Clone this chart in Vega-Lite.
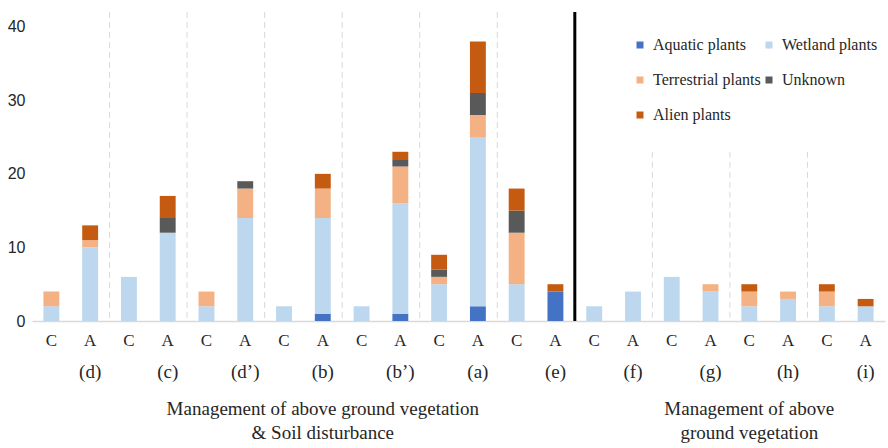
{
  "$schema": "https://vega.github.io/schema/vega-lite/v6.json",
  "width": 853,
  "height": 309,
  "autosize": "none",
  "padding": {"left": 32, "top": 12, "right": 3, "bottom": 127},
  "config": {"view": {"stroke": null}, "font": "Liberation Serif"},
  "datasets": {
    "counts": [
      {"bar": "(d)|C", "type": "Wetland plants", "n": 2},
      {"bar": "(d)|C", "type": "Terrestrial plants", "n": 2},
      {"bar": "(d)|A", "type": "Wetland plants", "n": 10},
      {"bar": "(d)|A", "type": "Terrestrial plants", "n": 1},
      {"bar": "(d)|A", "type": "Alien plants", "n": 2},
      {"bar": "(c)|C", "type": "Wetland plants", "n": 6},
      {"bar": "(c)|A", "type": "Wetland plants", "n": 12},
      {"bar": "(c)|A", "type": "Unknown", "n": 2},
      {"bar": "(c)|A", "type": "Alien plants", "n": 3},
      {"bar": "(d’)|C", "type": "Wetland plants", "n": 2},
      {"bar": "(d’)|C", "type": "Terrestrial plants", "n": 2},
      {"bar": "(d’)|A", "type": "Wetland plants", "n": 14},
      {"bar": "(d’)|A", "type": "Terrestrial plants", "n": 4},
      {"bar": "(d’)|A", "type": "Unknown", "n": 1},
      {"bar": "(b)|C", "type": "Wetland plants", "n": 2},
      {"bar": "(b)|A", "type": "Aquatic plants", "n": 1},
      {"bar": "(b)|A", "type": "Wetland plants", "n": 13},
      {"bar": "(b)|A", "type": "Terrestrial plants", "n": 4},
      {"bar": "(b)|A", "type": "Alien plants", "n": 2},
      {"bar": "(b’)|C", "type": "Wetland plants", "n": 2},
      {"bar": "(b’)|A", "type": "Aquatic plants", "n": 1},
      {"bar": "(b’)|A", "type": "Wetland plants", "n": 15},
      {"bar": "(b’)|A", "type": "Terrestrial plants", "n": 5},
      {"bar": "(b’)|A", "type": "Unknown", "n": 1},
      {"bar": "(b’)|A", "type": "Alien plants", "n": 1},
      {"bar": "(a)|C", "type": "Wetland plants", "n": 5},
      {"bar": "(a)|C", "type": "Terrestrial plants", "n": 1},
      {"bar": "(a)|C", "type": "Unknown", "n": 1},
      {"bar": "(a)|C", "type": "Alien plants", "n": 2},
      {"bar": "(a)|A", "type": "Aquatic plants", "n": 2},
      {"bar": "(a)|A", "type": "Wetland plants", "n": 23},
      {"bar": "(a)|A", "type": "Terrestrial plants", "n": 3},
      {"bar": "(a)|A", "type": "Unknown", "n": 3},
      {"bar": "(a)|A", "type": "Alien plants", "n": 7},
      {"bar": "(e)|C", "type": "Wetland plants", "n": 5},
      {"bar": "(e)|C", "type": "Terrestrial plants", "n": 7},
      {"bar": "(e)|C", "type": "Unknown", "n": 3},
      {"bar": "(e)|C", "type": "Alien plants", "n": 3},
      {"bar": "(e)|A", "type": "Aquatic plants", "n": 4},
      {"bar": "(e)|A", "type": "Alien plants", "n": 1},
      {"bar": "(f)|C", "type": "Wetland plants", "n": 2},
      {"bar": "(f)|A", "type": "Wetland plants", "n": 4},
      {"bar": "(g)|C", "type": "Wetland plants", "n": 6},
      {"bar": "(g)|A", "type": "Wetland plants", "n": 4},
      {"bar": "(g)|A", "type": "Terrestrial plants", "n": 1},
      {"bar": "(h)|C", "type": "Wetland plants", "n": 2},
      {"bar": "(h)|C", "type": "Terrestrial plants", "n": 2},
      {"bar": "(h)|C", "type": "Alien plants", "n": 1},
      {"bar": "(h)|A", "type": "Wetland plants", "n": 3},
      {"bar": "(h)|A", "type": "Terrestrial plants", "n": 1},
      {"bar": "(i)|C", "type": "Wetland plants", "n": 2},
      {"bar": "(i)|C", "type": "Terrestrial plants", "n": 2},
      {"bar": "(i)|C", "type": "Alien plants", "n": 1},
      {"bar": "(i)|A", "type": "Wetland plants", "n": 2},
      {"bar": "(i)|A", "type": "Alien plants", "n": 1}
    ],
    "types": [
      {"type": "Aquatic plants", "rank": 1},
      {"type": "Wetland plants", "rank": 2},
      {"type": "Terrestrial plants", "rank": 3},
      {"type": "Unknown", "rank": 4},
      {"type": "Alien plants", "rank": 5}
    ],
    "fullSeps": [
      {"bar": "(c)|C"}, {"bar": "(d’)|C"}, {"bar": "(b)|C"}, {"bar": "(b’)|C"}, {"bar": "(a)|C"}, {"bar": "(e)|C"}
    ],
    "shortSeps": [
      {"bar": "(g)|C"}, {"bar": "(h)|C"}, {"bar": "(i)|C"}
    ],
    "divider": [
      {"bar": "(f)|C"}
    ]
  },
  "layer": [
    {
      "layer": [
        {
          "data": {"name": "counts"},
          "transform": [
            {"lookup": "type", "from": {"data": {"name": "types"}, "key": "type", "fields": ["rank"]}}
          ],
          "mark": {"type": "bar", "width": {"band": 0.41}},
          "encoding": {
            "x": {
              "field": "bar", "type": "nominal",
              "scale": {
                "domain": ["(d)|C","(d)|A","(c)|C","(c)|A","(d’)|C","(d’)|A","(b)|C","(b)|A","(b’)|C","(b’)|A","(a)|C","(a)|A","(e)|C","(e)|A","(f)|C","(f)|A","(g)|C","(g)|A","(h)|C","(h)|A","(i)|C","(i)|A"],
                "paddingInner": 0, "paddingOuter": 0
              },
              "axis": {
                "orient": "bottom", "title": null, "labelAngle": 0, "ticks": false, "grid": false,
                "labelExpr": "split(datum.value, '|')[1]",
                "domainColor": "#d9d9d9", "domainWidth": 1.5,
                "labelFont": "Liberation Serif", "labelFontSize": 17, "labelColor": "#262626",
                "labelPadding": 11, "labelBaseline": "top", "labelOverlap": false
              }
            },
            "y": {
              "field": "n", "type": "quantitative", "stack": "zero",
              "scale": {"domain": [0, 42], "nice": false, "zero": true},
              "axis": {
                "title": null, "values": [0, 10, 20, 30, 40], "grid": false, "domain": false, "ticks": false,
                "labelFont": "Liberation Sans", "labelFontSize": 16, "labelColor": "#262626", "labelPadding": 7
              }
            },
            "order": {"field": "rank", "type": "quantitative", "sort": "ascending"},
            "color": {
              "field": "type", "type": "nominal",
              "scale": {
                "domain": ["Aquatic plants", "Wetland plants", "Terrestrial plants", "Unknown", "Alien plants"],
                "range": ["#4472C4", "#BDD7EE", "#F4B183", "#595959", "#C55A11"]
              },
              "legend": {
                "title": null, "orient": "none", "legendX": 600, "legendY": 25, "columns": 2, "direction": "horizontal",
                "symbolType": "square", "symbolSize": 49, "symbolStrokeWidth": 0,
                "labelFont": "Liberation Serif", "labelFontSize": 16, "labelColor": "#262626",
                "labelOffset": 5, "rowPadding": 19, "columnPadding": 0, "padding": 0, "labelLimit": 300
              }
            }
          }
        },
        {
          "data": {"name": "fullSeps"},
          "mark": {"type": "rule", "color": "#d9d9d9", "strokeDash": [6, 4], "strokeWidth": 1},
          "encoding": {"x": {"field": "bar", "type": "nominal", "bandPosition": 0}}
        },
        {
          "data": {"name": "shortSeps"},
          "mark": {"type": "rule", "color": "#d9d9d9", "strokeDash": [6, 4], "strokeWidth": 1},
          "encoding": {
            "x": {"field": "bar", "type": "nominal", "bandPosition": 0},
            "y": {"datum": 23},
            "y2": {"datum": 0}
          }
        },
        {
          "data": {"name": "divider"},
          "mark": {"type": "rule", "color": "#000000", "strokeWidth": 3},
          "encoding": {"x": {"field": "bar", "type": "nominal", "bandPosition": 0}}
        }
      ]
    },
    {
      "data": {"name": "counts"},
      "mark": {"type": "rule", "strokeOpacity": 0},
      "encoding": {
        "x": {
          "field": "bar", "type": "nominal",
          "scale": {
            "domain": ["(d)|C","(d)|A","(c)|C","(c)|A","(d’)|C","(d’)|A","(b)|C","(b)|A","(b’)|C","(b’)|A","(a)|C","(a)|A","(e)|C","(e)|A","(f)|C","(f)|A","(g)|C","(g)|A","(h)|C","(h)|A","(i)|C","(i)|A"],
            "paddingInner": 0, "paddingOuter": 0
          },
          "axis": {
            "orient": "bottom", "title": null, "labelAngle": 0, "ticks": false, "grid": false, "domain": false,
            "values": ["(d)|A","(c)|A","(d’)|A","(b)|A","(b’)|A","(a)|A","(e)|A","(f)|A","(g)|A","(h)|A","(i)|A"],
            "bandPosition": 0,
            "labelExpr": "split(datum.value, '|')[0]",
            "labelFont": "Liberation Serif", "labelFontSize": 19, "labelColor": "#262626",
            "labelPadding": 41, "labelBaseline": "top", "labelOverlap": false, "labelFlush": false
          }
        }
      }
    },
    {
      "data": {"name": "counts"},
      "mark": {"type": "rule", "strokeOpacity": 0},
      "encoding": {
        "x": {
          "field": "bar", "type": "nominal",
          "scale": {
            "domain": ["(d)|C","(d)|A","(c)|C","(c)|A","(d’)|C","(d’)|A","(b)|C","(b)|A","(b’)|C","(b’)|A","(a)|C","(a)|A","(e)|C","(e)|A","(f)|C","(f)|A","(g)|C","(g)|A","(h)|C","(h)|A","(i)|C","(i)|A"],
            "paddingInner": 0, "paddingOuter": 0
          },
          "axis": {
            "orient": "bottom", "title": null, "labelAngle": 0, "ticks": false, "grid": false, "domain": false,
            "values": ["(b)|A", "(h)|C"],
            "bandPosition": 0.13,
            "labelExpr": "datum.value == '(b)|A' ? ['Management of above ground vegetation', '& Soil disturbance'] : ['Management of above', 'ground vegetation']",
            "labelFont": "Liberation Serif", "labelFontSize": 19, "labelColor": "#262626",
            "labelLineHeight": 24, "labelLimit": 500,
            "labelPadding": 78, "labelBaseline": "top", "labelOverlap": false, "labelFlush": false
          }
        }
      }
    }
  ],
  "resolve": {"scale": {"x": "independent"}}
}
